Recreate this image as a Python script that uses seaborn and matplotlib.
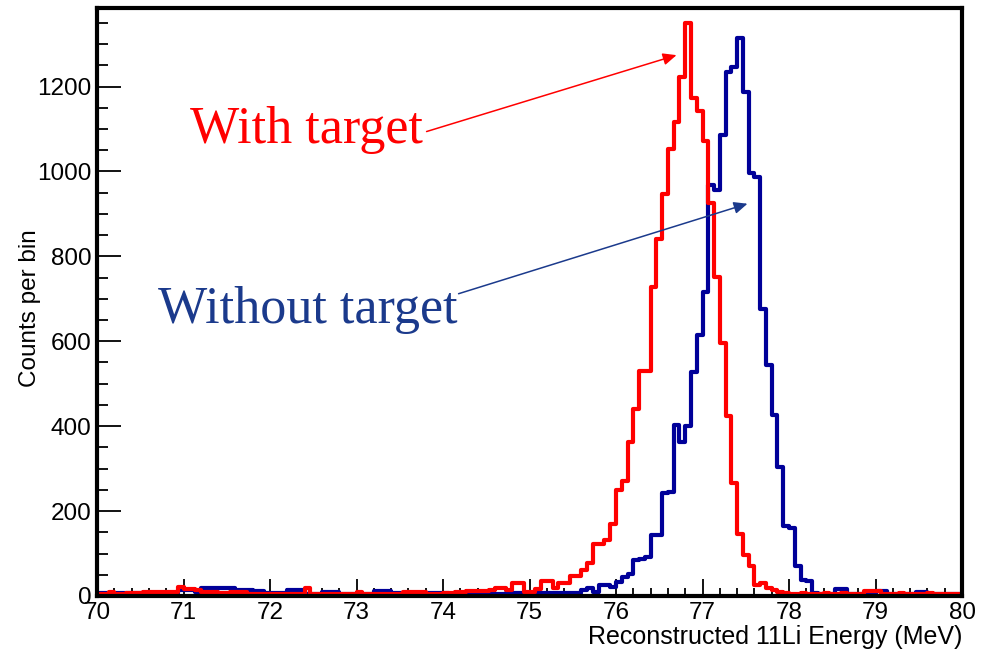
import numpy as np
import pandas as pd
import matplotlib
matplotlib.use("Agg")
import matplotlib.pyplot as plt
import seaborn as sns
from matplotlib.ticker import MultipleLocator

# Histogram binning: 150 bins between 70 and 80 MeV
x_min, x_max, n_bins = 70.0, 80.0, 150

# Counts per bin, one row per MeV (15 bins each)
with_target = [
    4, 4, 10, 4, 4, 7, 7, 7, 9, 9, 9, 10, 10, 10, 21,
    16, 16, 13, 9, 9, 9, 7, 7, 9, 9, 9, 5, 5, 5, 4,
    4, 4, 4, 5, 5, 5, 18, 5, 5, 5, 5, 5, 5, 5, 5,
    9, 5, 5, 5, 5, 5, 5, 5, 10, 10, 10, 10, 5, 5, 5,
    6, 6, 10, 10, 12, 12, 12, 12, 14, 18, 18, 13, 31, 31, 10,
    10, 16, 35, 35, 20, 31, 31, 47, 47, 62, 77, 123, 123, 132, 170,
    249, 270, 363, 440, 529, 529, 727, 842, 946, 1054, 1116, 1222, 1350, 1173, 1142,
    1071, 925, 752, 597, 425, 265, 146, 97, 71, 27, 31, 18, 13, 9, 6,
    5, 4, 6, 5, 4, 5, 6, 4, 5, 6, 5, 4, 5, 12, 12,
    12, 5, 4, 5, 6, 4, 5, 4, 5, 6, 5, 4, 5, 4, 4,
]
without_target = [
    8, 8, 8, 6, 6, 6, 6, 6, 6, 6, 6, 6, 6, 6, 14,
    14, 14, 10, 19, 19, 19, 20, 20, 20, 14, 14, 14, 12, 12, 6,
    6, 6, 6, 13, 13, 13, 5, 5, 5, 10, 10, 10, 5, 5, 5,
    5, 5, 5, 12, 12, 12, 6, 6, 6, 6, 6, 6, 6, 6, 6,
    6, 5, 5, 5, 5, 5, 5, 5, 5, 5, 5, 6, 6, 6, 6,
    6, 6, 7, 7, 7, 7, 8, 8, 8, 14, 20, 10, 26, 27, 22,
    32, 44, 52, 85, 86, 93, 143, 143, 243, 245, 402, 362, 400, 527, 615,
    717, 969, 956, 1085, 1235, 1245, 1315, 1186, 996, 988, 677, 543, 427, 304, 165,
    159, 70, 37, 35, 6, 5, 5, 5, 17, 17, 5, 5, 5, 5, 5,
    12, 12, 5, 5, 5, 5, 5, 10, 10, 4, 4, 4, 4, 4, 4,
]

x_ticks = [70, 71, 72, 73, 74, 75, 76, 77, 78, 79, 80]
y_ticks = [0, 200, 400, 600, 800, 1000, 1200]
y_max = 1385

red = "#ff0000"
navy = "#000099"
label_blue = "#1b3a8c"

edges = np.linspace(x_min, x_max, n_bins + 1)
centers = 0.5 * (edges[:-1] + edges[1:])
df_without = pd.DataFrame({"energy": centers, "counts": without_target})
df_with = pd.DataFrame({"energy": centers, "counts": with_target})

sns.set_theme(style="ticks")
plt.rcParams["font.family"] = ["Liberation Sans", "DejaVu Sans"]
plt.rcParams["text.color"] = "black"
plt.rcParams["axes.labelcolor"] = "black"

fig = plt.figure(figsize=(9.89, 6.52), dpi=100)
ax = fig.add_axes([97 / 989, 56 / 652, 865 / 989, 588 / 652])

sns.histplot(data=df_without, x="energy", weights="counts", bins=n_bins,
             binrange=(x_min, x_max), element="step", fill=False,
             color=navy, linewidth=3.0, ax=ax)
sns.histplot(data=df_with, x="energy", weights="counts", bins=n_bins,
             binrange=(x_min, x_max), element="step", fill=False,
             color=red, linewidth=3.0, ax=ax)

ax.set_xlim(x_min, x_max)
ax.set_ylim(0, y_max)
ax.set_xticks(x_ticks)
ax.set_yticks(y_ticks)
ax.xaxis.set_minor_locator(MultipleLocator(0.2))
ax.yaxis.set_minor_locator(MultipleLocator(50))
ax.tick_params(axis="both", which="both", direction="in", colors="black",
               labelcolor="black", labelsize=17.5, width=1.3)
ax.tick_params(axis="x", which="major", length=12.5, pad=4)
ax.tick_params(axis="x", which="minor", length=6)
ax.tick_params(axis="y", which="major", length=17.5, pad=4)
ax.tick_params(axis="y", which="minor", length=8)

for side in ["left", "bottom", "right", "top"]:
    ax.spines[side].set_visible(True)
    ax.spines[side].set_linewidth(3.0)
    ax.spines[side].set_color("black")

ax.set_xlabel("Reconstructed 11Li Energy (MeV)", fontsize=18, loc="right",
              color="black")
ax.xaxis.set_label_coords(1.0, -0.05)
ax.set_ylabel("Counts per bin", fontsize=17.5, color="black")
ax.yaxis.set_label_coords(-0.065, 0.49)

serif = ["Liberation Serif", "DejaVu Serif"]
ax.text(71.08, 1068, "With target", color=red, fontsize=37.5, family=serif,
        ha="left", va="baseline")
ax.text(70.70, 643, "Without target", color=label_blue, fontsize=37.5,
        family=serif, ha="left", va="baseline")

arrow_style = "-|>,head_length=0.45,head_width=0.2"
ax.annotate("", xy=(76.70, 1274), xytext=(73.81, 1094),
            arrowprops=dict(arrowstyle=arrow_style, color=red, lw=1.1,
                            mutation_scale=18, shrinkA=0, shrinkB=0))
ax.annotate("", xy=(77.52, 924), xytext=(74.18, 712),
            arrowprops=dict(arrowstyle=arrow_style, color=label_blue, lw=1.1,
                            mutation_scale=18, shrinkA=0, shrinkB=0))

fig.savefig("out.png", dpi=100, facecolor="white")
